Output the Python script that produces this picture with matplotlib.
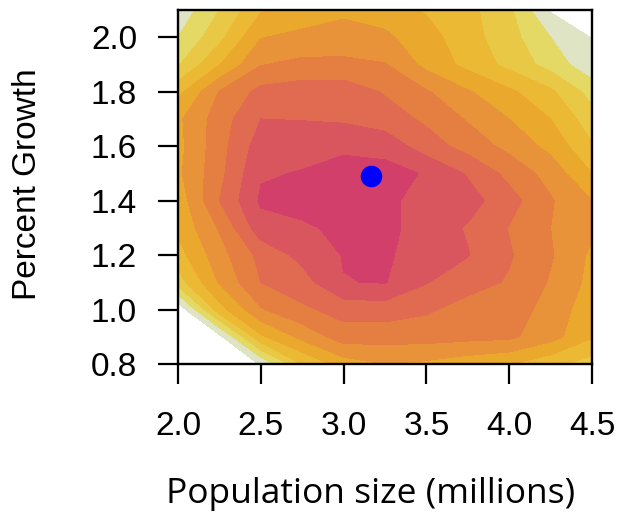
import numpy as np
import matplotlib.pyplot as plt

# grid of the density surface (population in millions, growth in percent)
pop_millions = [2.0, 2.25, 2.5, 2.75, 3.0, 3.25, 3.5, 3.75, 4.0, 4.25, 4.5]
growth_pct = [2.1, 2.0, 1.9, 1.8, 1.7, 1.6, 1.5, 1.4, 1.3, 1.2, 1.1, 1.0, 0.9, 0.8]

# density level at each grid node, one row per growth value (top row first)
density = [
    [0.3, 2.0, 3.9, 4.3, 4.75, 4.5, 3.9, 3.3, 2.2, -0.1, -1.0],
    [1.0, 2.7, 4.95, 5.3, 5.5, 5.2, 4.4, 3.4, 2.4, 1.0, -0.05],
    [1.9, 3.95, 5.95, 6.25, 6.2, 6.05, 4.7, 3.7, 2.7, 1.6, 0.3],
    [3.7, 6.05, 7.3, 7.55, 7.6, 6.9, 6.1, 5.1, 4.2, 3.2, 1.6],
    [4.8, 6.5, 8.0, 7.95, 7.85, 7.5, 6.8, 5.9, 5.0, 4.0, 2.4],
    [4.7, 6.6, 8.5, 8.7, 8.8, 8.6, 7.5, 6.6, 5.7, 4.7, 3.1],
    [4.8, 6.7, 8.9, 9.05, 9.4, 9.4, 8.9, 7.9, 6.7, 5.6, 4.0],
    [4.4, 7.0, 9.15, 9.5, 9.6, 9.3, 8.5, 8.4, 7.4, 6.1, 5.0],
    [4.2, 6.1, 8.6, 8.8, 9.3, 9.25, 8.6, 7.9, 6.95, 6.0, 5.2],
    [3.6, 5.6, 7.3, 8.3, 9.05, 9.15, 8.5, 8.05, 7.1, 6.1, 4.8],
    [2.5, 5.1, 7.0, 7.6, 8.97, 9.05, 8.05, 7.4, 6.9, 5.9, 4.7],
    [-0.8, 3.6, 5.9, 6.8, 7.4, 7.5, 7.15, 6.6, 6.4, 5.7, 4.3],
    [-1.5, -0.3, 3.8, 5.3, 6.5, 6.4, 6.4, 6.3, 6.2, 5.4, 4.1],
    [-3.0, -1.5, 0.1, 3.0, 4.5, 5.0, 4.8, 4.4, 4.05, 3.3, 2.5],
]

band_levels = [0, 1, 2, 3, 4, 5, 6, 7, 8, 9, 10]
band_colors = [
    "#dfe4c4", "#e3d964", "#e8c844", "#ebb934", "#eaa82d",
    "#e8933a", "#e47f41", "#e16b50", "#d9565f", "#d33f6b",
]

# best estimate
best_pop = 3.165
best_growth = 1.49

xticks = [2.0, 2.5, 3.0, 3.5, 4.0, 4.5]
yticks = [0.8, 1.0, 1.2, 1.4, 1.6, 1.8, 2.0]


def main() -> None:
    fig = plt.figure(figsize=(6.19, 5.14), dpi=100)
    ax = fig.add_axes([178 / 619, 150 / 514, 414 / 619, 354 / 514])

    X, Y = np.meshgrid(pop_millions, growth_pct[::-1])
    Z = np.array(density)[::-1]
    ax.contourf(X, Y, Z, levels=band_levels, colors=band_colors)

    ax.plot(best_pop, best_growth, "o", color="#0000ff", ms=14.5, zorder=5)

    ax.set_xlim(2.0, 4.5)
    ax.set_ylim(0.8, 2.1)
    ax.set_xticks(xticks)
    ax.set_yticks(yticks)
    ax.set_xticklabels([f"{v:.1f}" for v in xticks],
                       family="Liberation Sans", fontsize=24)
    ax.set_yticklabels([f"{v:.1f}" for v in yticks],
                       family="Liberation Sans", fontsize=24)
    ax.tick_params(axis="both", direction="out", length=14.5, width=1.6,
                   color="black")
    ax.tick_params(axis="x", pad=19)
    ax.tick_params(axis="y", pad=15)
    for spine in ax.spines.values():
        spine.set_linewidth(1.7)
        spine.set_color("black")

    fig.text(28 / 619, 1 - 184 / 514, "Percent Growth", rotation=90,
             ha="center", va="center", family="Liberation Sans", fontsize=24)
    fig.text(371 / 619, 1 - 503 / 514, "Population size (millions)",
             ha="center", va="baseline", family="Open Sans", fontsize=25.5)

    fig.savefig("out.png", dpi=100)
    plt.close(fig)


if __name__ == "__main__":
    main()
